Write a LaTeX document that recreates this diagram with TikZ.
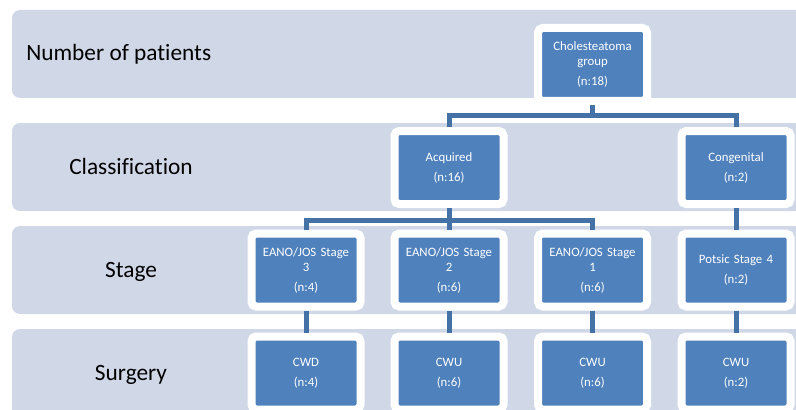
\documentclass[tikz,border=0pt]{standalone}
\usepackage{fontspec}
\setmainfont{Carlito}[Ligatures=NoCommon]
\usepackage{tikz}
\usetikzlibrary{shadows}
\definecolor{band-bg}{RGB}{208,216,232}
\definecolor{box-fill}{RGB}{79,129,189}
\definecolor{wire-col}{RGB}{68,114,166}

\begin{document}
\begin{tikzpicture}[x=0.75pt, y=-0.75pt]
    \path[use as bounding box] (0,0) rectangle (796,410);

    \tikzset{ band/.style ={fill=band-bg, rounded corners=6pt} }
    \tikzset{ rowlbl/.style ={font=\fontsize{17.5}{20}\selectfont, text=black, inner sep=0pt} }
    \tikzset{ grp/.style ={draw=white, fill=box-fill, line width=6pt, rounded corners=3.5pt,
                           minimum width=81.75pt, minimum height=54.75pt, inner sep=0pt,
                           text width=74pt, align=center, text=white,
                           font=\fontsize{9.6}{11.25}\selectfont,
                           drop shadow={shadow xshift=1.2pt, shadow yshift=-1.5pt, opacity=0.22, fill=black}} }
    \tikzset{ wire/.style ={draw=wire-col, line width=3.75pt} }

    % background rows
    \fill[band] (12, 10) rectangle (812, 98);
    \fill[band] (12,123) rectangle (812,211);
    \fill[band] (12,226) rectangle (812,314);
    \fill[band] (12,329) rectangle (812,430);

    \node[rowlbl, anchor=base west] (lbl1) at ( 26, 61) {Number of patients};
    \node[rowlbl, anchor=base]      (lbl2) at (131,174) {Classification};
    \node[rowlbl, anchor=base]      (lbl3) at (131,277) {Stage};
    \node[rowlbl, anchor=base]      (lbl4) at (131,380) {Surgery};

    \node[grp] (chol) at (592.5, 64.5) {Cholesteatoma\\group\\[3.75pt](n:18)};
    \node[grp] (acq)  at (449.0,167.5) {Acquired\\[3.75pt](n:16)};
    \node[grp] (cong) at (736.0,167.5) {Congenital\\[3.75pt](n:2)};

    \node[grp] (st3)  at (306.0,270.0) {EANO/JOS Stage\\3\\[3.75pt](n:4)};
    \node[grp] (st2)  at (449.0,270.0) {EANO/JOS Stage\\2\\[3.75pt](n:6)};
    \node[grp] (st1)  at (592.5,270.0) {EANO/JOS Stage\\1\\[3.75pt](n:6)};
    \node[grp] (pot4) at (736.0,270.0) {Potsic Stage 4\\[3.75pt](n:2)};

    \node[grp] (cwd3) at (306.0,373.0) {CWD\\[3.75pt](n:4)};
    \node[grp] (cwu2) at (449.0,373.0) {CWU\\[3.75pt](n:6)};
    \node[grp] (cwu1) at (592.5,373.0) {CWU\\[3.75pt](n:6)};
    \node[grp] (cwu4) at (736.0,373.0) {CWU\\[3.75pt](n:2)};

    \draw[wire] (chol.south) -- ++(0,10.5) -| (acq.north);
    \draw[wire] (chol.south) -- ++(0,10.5) -| (cong.north);
    \draw[wire] (acq.south) -- ++(0,12) -| (st3.north);
    \draw[wire] (acq.south) -- ++(0,12) -| (st1.north);
    \draw[wire] (acq.south) -- (st2.north);
    \draw[wire] (cong.south) -- (pot4.north);

    \draw[wire] (st3.south) -- (cwd3.north);
    \draw[wire] (st2.south) -- (cwu2.north);
    \draw[wire] (st1.south) -- (cwu1.north);
    \draw[wire] (pot4.south) -- (cwu4.north);

  \end{tikzpicture}
\end{document}
